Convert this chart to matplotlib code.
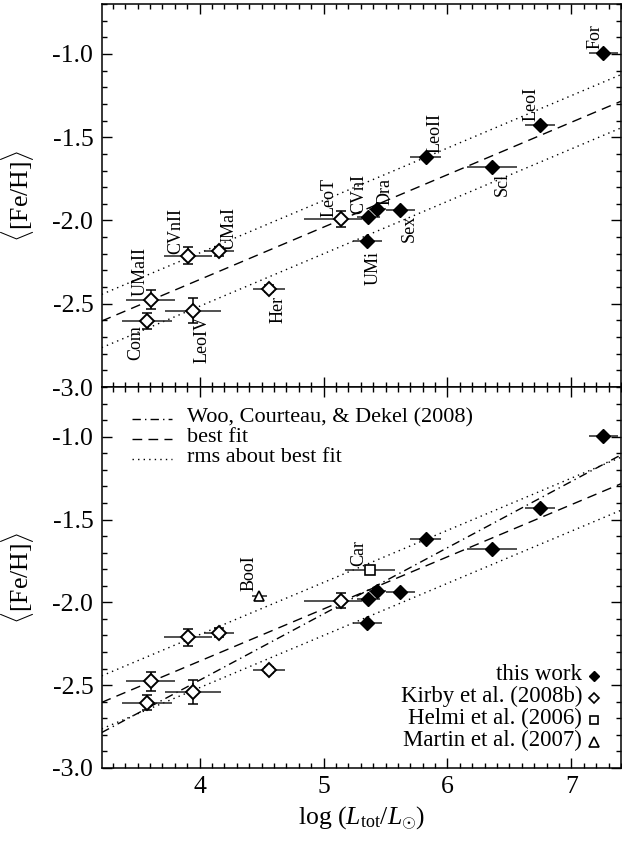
import matplotlib
matplotlib.use('Agg')
import matplotlib.pyplot as plt
from matplotlib.ticker import MultipleLocator, FixedLocator
import numpy as np

plt.rcParams['font.family'] = ['Liberation Serif', 'DejaVu Serif']
plt.rcParams['mathtext.fontset'] = 'custom'
plt.rcParams['mathtext.rm'] = 'Liberation Serif'
plt.rcParams['mathtext.it'] = 'Liberation Serif:italic'
plt.rcParams['axes.unicode_minus'] = False

# ---------------- data ----------------
# this work (filled diamonds)
names_this = ['UMi', 'CVnI', 'Dra', 'Sex', 'LeoII', 'Scl', 'LeoI', 'For']
logL_this = [5.354, 5.362, 5.434, 5.62, 5.824, 6.36, 6.749, 7.258]
feh_this = [-2.125, -1.977, -1.93, -1.935, -1.618, -1.678, -1.428, -0.994]
xerr_this = [0.12, 0.09, 0.07, 0.12, 0.125, 0.2, 0.12, 0.12]
yerr_this = [0.01, 0.01, 0.01, 0.01, 0.01, 0.01, 0.01, 0.01]

# Kirby et al. (2008b) (open diamonds)
names_k08 = ['Com', 'UMaII', 'LeoIV', 'CVnII', 'UMaI', 'Her', 'LeoT']
logL_k08 = [3.576, 3.605, 3.946, 3.906, 4.155, 4.563, 5.14]
feh_k08 = [-2.605, -2.476, -2.541, -2.211, -2.184, -2.409, -1.989]
xerr_lo_k08 = [0.20, 0.20, 0.225, 0.19, 0.12, 0.13, 0.30]
xerr_hi_k08 = [0.20, 0.20, 0.225, 0.19, 0.12, 0.13, 0.17]
yerr_k08 = [0.047, 0.057, 0.074, 0.05, 0.027, 0.02, 0.048]

# Helmi et al. (2006) (open square)
names_h06 = ['Car']
logL_h06 = [5.376]
feh_h06 = [-1.807]
xerr_h06 = [0.20]

# Martin et al. (2007) (open triangle)
names_m07 = ['BooI']
logL_m07 = [4.483]
feh_m07 = [-1.961]
xerr_m07 = [0.06]

# relations: <[Fe/H]> = a + b * (log L - 6)
fit_a, fit_b, fit_rms = -1.725, 0.315, 0.16
woo_a, woo_b = -1.67, 0.40

legend_lines = ['Woo, Courteau, & Dekel (2008)', 'best fit', 'rms about best fit']
legend_sources = ['this work', 'Kirby et al. (2008b)', 'Helmi et al. (2006)', 'Martin et al. (2007)']

# ---------------- label offsets (pixels, layout only) ----------------
off_top = {
    'Com': (-11, -21), 'UMaII': (-11, 28), 'LeoIV': (9, -29), 'CVnII': (-12, 25),
    'UMaI': (10, 23), 'Her': (9, -21), 'LeoT': (-12, 21), 'CVnI': (-10, 23),
    'Dra': (8, 17), 'Sex': (9, -19), 'UMi': (6, -27), 'LeoII': (9, 24),
    'Scl': (10, -18), 'LeoI': (-9, 21), 'For': (-8, 16),
}
off_bot = {'BooI': (-10, 23), 'Car': (-11.5, 17)}

# ---------------- figure ----------------
fig = plt.figure(figsize=(6.22, 8.41), dpi=100)
Lf, Rf = 101.7 / 622, 621 / 622
ax1 = fig.add_axes([Lf, (841 - 387) / 841, Rf - Lf, 383 / 841])
ax2 = fig.add_axes([Lf, (841 - 768) / 841, Rf - Lf, 381 / 841])

XLIM = (3.21, 7.40)
YLIM = (-3.0, -0.7)
ecol = '#222222'
ms_d = 6.8
lw_e = 1.1

def line_y(a, b, x):
    return a + b * (np.asarray(x) - 6.0)

for ax in (ax1, ax2):
    ax.set_xlim(*XLIM)
    ax.set_ylim(*YLIM)
    xx = np.array(XLIM)
    ax.plot(xx, line_y(fit_a, fit_b, xx), color='k', lw=1.0, ls=(0, (7, 4.5)), zorder=1)
    ax.plot(xx, line_y(fit_a + fit_rms, fit_b, xx), color='k', lw=1.0, ls=(0, (1, 3)), zorder=1)
    ax.plot(xx, line_y(fit_a - fit_rms, fit_b, xx), color='k', lw=1.0, ls=(0, (1, 3)), zorder=1)

    # error bars
    ax.errorbar(logL_this, feh_this, xerr=xerr_this, fmt='none', ecolor=ecol,
                elinewidth=lw_e, capsize=0, zorder=2)
    ax.errorbar(logL_k08, feh_k08, xerr=[xerr_lo_k08, xerr_hi_k08], fmt='none',
                ecolor=ecol, elinewidth=lw_e, capsize=0, zorder=2)
    ax.errorbar(logL_k08, feh_k08, yerr=yerr_k08, fmt='none', ecolor='k',
                elinewidth=lw_e, capsize=3.6, capthick=lw_e, zorder=2)

    ax.plot(logL_this, feh_this, 'D', ms=ms_d, mfc='k', mec='k', mew=1.0, zorder=4)
    ax.plot(logL_k08, feh_k08, 'D', ms=ms_d, mfc='white', mec='k', mew=1.4, zorder=4)

    ax.xaxis.set_major_locator(FixedLocator([4, 5, 6, 7]))
    ax.xaxis.set_minor_locator(MultipleLocator(0.1))
    ax.yaxis.set_major_locator(MultipleLocator(0.5))
    ax.yaxis.set_minor_locator(MultipleLocator(0.1))
    ax.tick_params(which='both', direction='in', top=True, right=True, width=1.0)
    ax.tick_params(which='major', length=7.2, labelsize=18.5, pad=6)
    ax.tick_params(which='minor', length=3.6)
    for s in ax.spines.values():
        s.set_linewidth(1.1)
    ax.yaxis.set_major_formatter(matplotlib.ticker.FormatStrFormatter('%.1f'))
    ax.set_ylabel(r'$\langle$[Fe/H]$\rangle$', fontsize=18.5, labelpad=12)

ax1.tick_params(labelbottom=False)

# labels in top panel
all_names = names_this + names_k08
all_x = logL_this + logL_k08
all_y = feh_this + feh_k08
for n, x, y in zip(all_names, all_x, all_y):
    dx, dy = off_top[n]
    ax1.annotate(n, (x, y), xytext=(dx, dy), textcoords='offset pixels',
                 rotation=90, ha='center', va='center', fontsize=13)

# bottom panel extras
ax2.plot(np.array(XLIM), line_y(woo_a, woo_b, np.array(XLIM)), color='k', lw=1.0,
         ls=(0, (6, 3, 1, 3)), zorder=1)
ax2.errorbar(logL_h06, feh_h06, xerr=xerr_h06, fmt='none', ecolor=ecol,
             elinewidth=lw_e, capsize=0, zorder=2)
ax2.errorbar(logL_m07, feh_m07, xerr=xerr_m07, fmt='none', ecolor=ecol,
             elinewidth=lw_e, capsize=0, zorder=2)
ax2.plot(logL_h06, feh_h06, 's', ms=6.5, mfc='white', mec='k', mew=1.2, zorder=4)
ax2.plot(logL_m07, feh_m07, '^', ms=7, mfc='white', mec='k', mew=1.2, zorder=4)
for n, x, y in zip(names_h06 + names_m07, logL_h06 + logL_m07, feh_h06 + feh_m07):
    dx, dy = off_bot[n]
    ax2.annotate(n, (x, y), xytext=(dx, dy), textcoords='offset pixels',
                 rotation=90, ha='center', va='center', fontsize=13)

ax2.set_xlabel(r'log ($L_{\rm tot}/L_{\odot}$)', fontsize=18.5, labelpad=4)

# line legend (upper left of bottom panel)
styles = [(0, (6, 3, 1, 3)), (0, (7, 4.5)), (0, (1, 3))]
rows_y = [0.916, 0.864, 0.810]
for lab, st, yy in zip(legend_lines, styles, rows_y):
    ax2.plot([0.058, 0.135], [yy, yy], transform=ax2.transAxes, color='k', lw=1.0, ls=st)
    ax2.text(0.164, yy + 0.004, lab, transform=ax2.transAxes, fontsize=16,
             ha='left', va='center')

# source legend (lower right of bottom panel)
mk = [dict(marker='D', mfc='k', mec='k', ms=5.5, mew=1.0),
      dict(marker='D', mfc='white', mec='k', ms=4.8, mew=1.2),
      dict(marker='s', mfc='white', mec='k', ms=6.0, mew=1.2),
      dict(marker='^', mfc='white', mec='k', ms=6.5, mew=1.2)]
rows_s = [0.2415, 0.1837, 0.126, 0.068]
for lab, m, yy in zip(legend_sources, mk, rows_s):
    ax2.text(0.925, yy + 0.004, lab, transform=ax2.transAxes, fontsize=16.5,
             ha='right', va='center')
    ax2.plot([0.948], [yy], transform=ax2.transAxes, ls='none', **m)

fig.savefig('out.png', dpi=100)
